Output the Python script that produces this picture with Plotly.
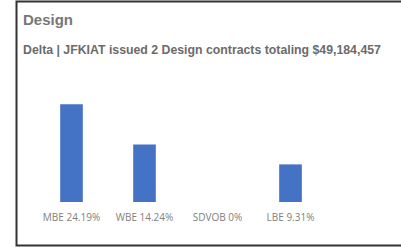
import plotly.graph_objects as go

categories = ["MBE 24.19%", "WBE 14.24%", "SDVOB 0%", "LBE 9.31%"]
values = [24.19, 14.24, 0, 9.31]
title_text = "Design"
subtitle_text = "Delta | JFKIAT issued 2 Design contracts totaling $49,184,457"

W, H = 401, 247
L, R, T, B = 35, 74, 80, 45
pw = W - L - R
ph = H - T - B

def px(x):
    return (x - L) / pw

def py(y):
    return (H - B - y) / ph

fig = go.Figure(go.Bar(x=categories, y=values, marker_color="#4472C4", marker_line_width=0))

fig.update_layout(
    width=W, height=H,
    margin=dict(l=L, r=R, t=T, b=B),
    paper_bgcolor="white", plot_bgcolor="white",
    bargap=0.69,
    showlegend=False,
    xaxis=dict(showgrid=False, zeroline=False, showline=False, ticks="",
               ticklabelstandoff=8,
               tickfont=dict(family="Open Sans", size=10, color="#808080")),
    yaxis=dict(range=[0, ph / 4.04], visible=False),
    shapes=[
        dict(type="rect", xref="paper", yref="paper",
             x0=px(16.5), x1=px(420), y0=py(245.5), y1=py(1.5),
             line=dict(color="#333333", width=2), fillcolor="rgba(0,0,0,0)", layer="above"),
    ],
    annotations=[
        dict(text=title_text, xref="paper", yref="paper", x=px(21), y=py(20),
             xanchor="left", yanchor="middle", showarrow=False,
             font=dict(family="Liberation Sans", size=15, color="#777777", weight="bold")),
        dict(text=subtitle_text, xref="paper", yref="paper", x=px(21), y=py(50),
             xanchor="left", yanchor="middle", showarrow=False,
             font=dict(family="Liberation Sans", size=12.3, color="#6b6b6b", weight="bold")),
    ],
)

fig.write_html("out.html", config={"displayModeBar": False},
               post_script="document.body.style.margin='0';document.body.style.overflow='hidden';")
